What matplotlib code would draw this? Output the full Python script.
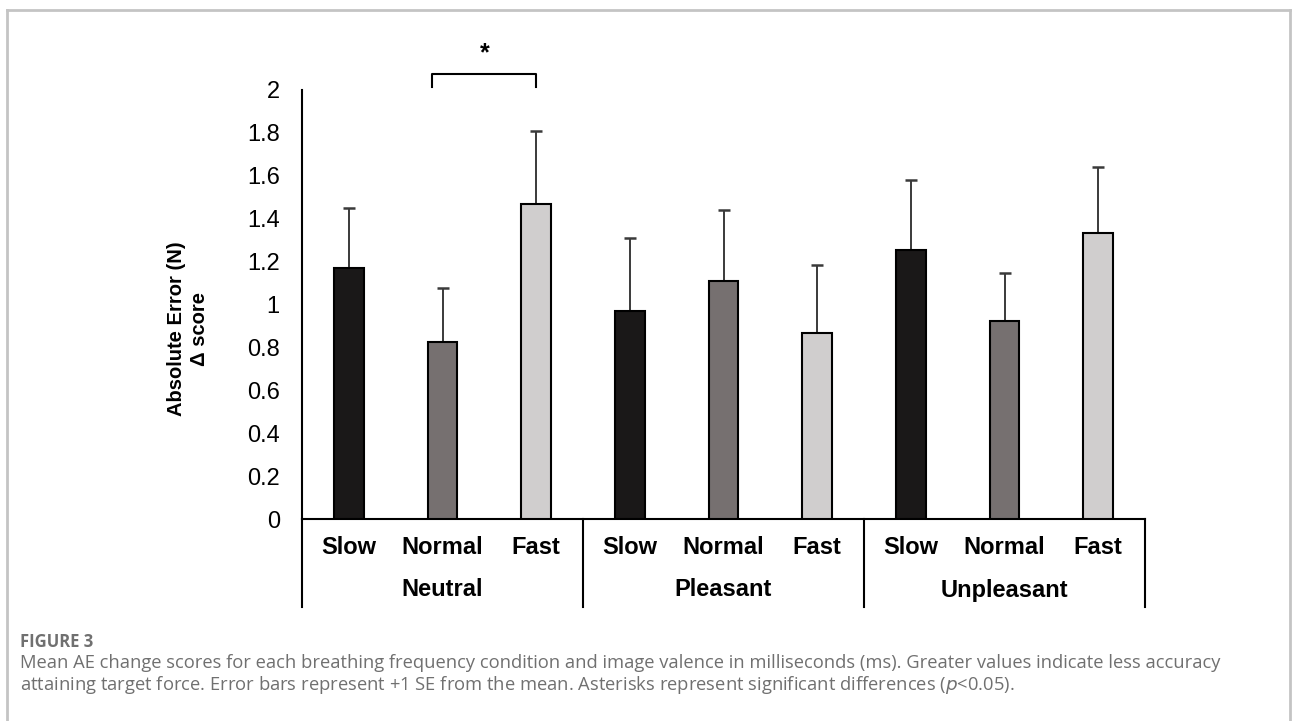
import matplotlib
matplotlib.use("Agg")
import matplotlib.pyplot as plt
from matplotlib.lines import Line2D
from matplotlib.transforms import blended_transform_factory

valences = ["Neutral", "Pleasant", "Unpleasant"]
frequencies = ["Slow", "Normal", "Fast"]
means = [1.17, 0.825, 1.47,   0.97, 1.11, 0.867,   1.255, 0.923, 1.333]
se = [0.28, 0.252, 0.34,   0.34, 0.33, 0.317,   0.327, 0.224, 0.307]
bar_colors = ["#1a1818", "#767070", "#d0cece"]
yticks = [0, 0.2, 0.4, 0.6, 0.8, 1, 1.2, 1.4, 1.6, 1.8, 2]
ytick_labels = ["0", "0.2", "0.4", "0.6", "0.8", "1", "1.2", "1.4", "1.6", "1.8", "2"]

W, H = 1294, 721
fig = plt.figure(figsize=(W / 100, H / 100), dpi=100)
plt.rcParams['font.family'] = ['Liberation Sans', 'DejaVu Sans']

# outer gray frame (left, top, right)
frame_c = "#c4c4c4"
fig.add_artist(Line2D([7 / W, 7 / W], [0, 1 - 10 / H], color=frame_c, lw=2, transform=fig.transFigure))
fig.add_artist(Line2D([7 / W, 1290 / W], [1 - 10 / H, 1 - 10 / H], color=frame_c, lw=2, transform=fig.transFigure))
fig.add_artist(Line2D([1290 / W, 1290 / W], [0, 1 - 10 / H], color=frame_c, lw=2, transform=fig.transFigure))

x0, x1, y0, y1 = 302, 1145, 519, 90
ax = fig.add_axes([x0 / W, 1 - y0 / H, (x1 - x0) / W, (y0 - y1) / H])

n = len(means)
xs = list(range(n))
cols = [bar_colors[i % 3] for i in range(n)]
ax.bar(xs, means, width=0.32, color=cols, edgecolor="black", linewidth=1.5, zorder=3)
ax.errorbar(xs, means, yerr=[[0] * n, se], fmt="none", ecolor="#3a3a3a",
            elinewidth=1.4, capsize=4.5, capthick=1.8, zorder=2)

ax.set_xlim(-0.5, n - 0.5)
ax.set_ylim(0, 2)
ax.set_yticks(yticks)
ax.set_yticklabels(ytick_labels)
ax.tick_params(axis="y", length=0, pad=16, labelsize=17)
ax.tick_params(axis="x", length=0, labelbottom=False)
for s in ["top", "right"]:
    ax.spines[s].set_visible(False)
ax.spines["left"].set_linewidth(1.5)
ax.spines["bottom"].set_linewidth(1.5)

# category labels and separators
trans = blended_transform_factory(ax.transData, ax.transAxes)
ax_h = y0 - y1
for i, xi in enumerate(xs):
    ax.text(xi, -(548 - y0) / ax_h, frequencies[i % 3], transform=trans,
            ha="center", va="center", fontsize=17, fontweight="bold")
for g, v in enumerate(valences):
    ax.text(3 * g + 1, -(590 - y0) / ax_h, v, transform=trans,
            ha="center", va="center", fontsize=17, fontweight="bold")
for g in range(4):
    xb = 3 * g - 0.5
    ax.add_line(Line2D([xb, xb], [0, -(607 - y0) / ax_h], transform=trans,
                       color="black", lw=1.5, clip_on=False))

# significance bracket
bx = [0.89, 0.89, 2.0, 2.0]
by = [2.014, 2.075, 2.075, 2.014]
ax.plot(bx, by, color="black", lw=1.5, clip_on=False)
ax.text(1.45, 2.17, "*", ha="center", va="center", fontsize=18, fontweight="bold", clip_on=False)

# y-label
fig.text(188 / W, 1 - 329 / H, "Absolute Error (N)\n\u0394 score", rotation=90,
         ha="center", va="center", fontsize=14.5, fontweight="bold", linespacing=1.25)

# caption
cap_c = "#707070"
fig.text(20 / W, 1 - 642 / H, "FIGURE 3", ha="left", va="center", fontsize=12,
         fontweight="bold", color=cap_c, family=["Open Sans", "DejaVu Sans"])
fig.text(20 / W, 1 - 663 / H,
         "Mean AE change scores for each breathing frequency condition and image valence in milliseconds (ms). Greater values indicate less accuracy",
         ha="left", va="center", fontsize=13.25, color=cap_c, family=["Open Sans", "DejaVu Sans"])
fig.text(20 / W, 1 - 685 / H,
         "attaining target force. Error bars represent +1 SE from the mean. Asterisks represent significant differences ($\\it{p}$<0.05).",
         ha="left", va="center", fontsize=13.25, color=cap_c, family=["Open Sans", "DejaVu Sans"])

fig.savefig("out.png", dpi=100)
